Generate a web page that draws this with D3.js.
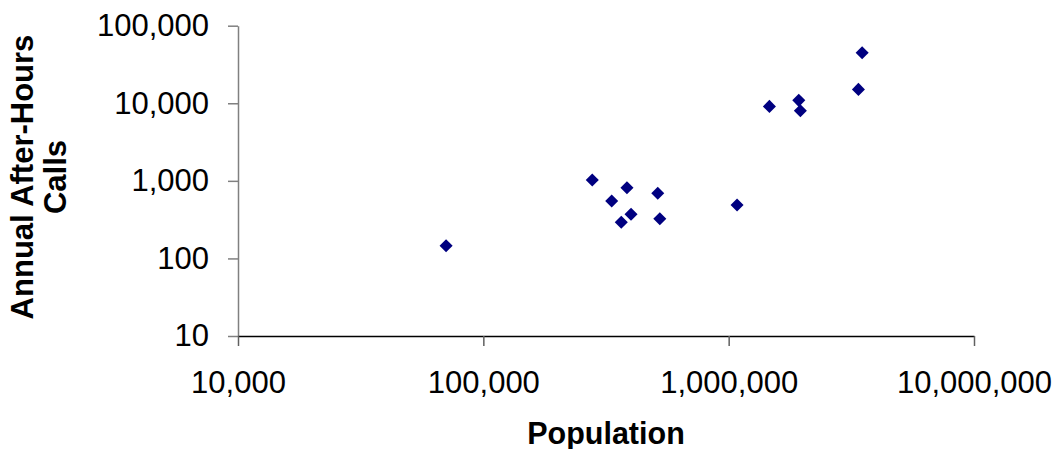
<!DOCTYPE html>
<html>
<head>
<meta charset="utf-8">
<script src="https://cdn.jsdelivr.net/npm/d3@7"></script>
<style>
  body { margin: 0; background: #fff; }
  svg { display: block; }
  .tick text { font-family: "Liberation Sans", Arial, sans-serif; font-size: 31px; fill: #000; }
  .title { font-family: "Liberation Sans", Arial, sans-serif; font-weight: bold; fill: #000; }
</style>
</head>
<body>
<svg id="chart"></svg>
<script>
'use strict';

// population of each service area
const population = [70500, 278000, 333600, 385000, 514000, 400000, 365000, 524000,
	1082000, 1466000, 1931000, 1960000, 3380000, 3500000];
// annual after-hours calls for the same areas
const calls = [146, 1024, 549, 815, 690, 370, 292, 325,
	488, 9120, 10900, 8000, 15100, 44800];

const xTicks = [10000, 100000, 1000000, 10000000];
const yTicks = [10, 100, 1000, 10000, 100000];

const width = 1055, height = 449;
const margin = { top: 25.7, right: 81, bottom: 113, left: 238 };

const svg = d3.select("#chart")
	.attr("width", width)
	.attr("height", height);

const x = d3.scaleLog()
	.domain([10000, 10000000])
	.range([margin.left, width - margin.right]);

const y = d3.scaleLog()
	.domain([10, 100000])
	.range([height - margin.bottom, margin.top]);

const fmt = d3.format(",");

// y axis (grey line + ticks)
const gy = svg.append("g")
	.attr("transform", `translate(${margin.left},0)`)
	.call(d3.axisLeft(y).tickValues(yTicks).tickFormat(fmt)
		.tickSize(10).tickSizeOuter(0).tickPadding(19));
gy.select(".domain").attr("stroke", "#808080").attr("stroke-width", 1.5);
gy.selectAll(".tick line").attr("stroke", "#808080").attr("stroke-width", 1.5);

// x axis (black line, grey ticks)
const gx = svg.append("g")
	.attr("transform", `translate(0,${height - margin.bottom})`)
	.call(d3.axisBottom(x).tickValues(xTicks).tickFormat(fmt)
		.tickSize(10).tickSizeOuter(0).tickPadding(25));
gx.select(".domain").attr("stroke", "#000").attr("stroke-width", 1.5);
gx.selectAll(".tick line").attr("stroke", "#606060").attr("stroke-width", 1.5);

// points
const pts = population.map((p, i) => ({ p: p, c: calls[i] }));
const diamond = d3.symbol().type(d3.symbolSquare).size(85);

svg.append("g")
	.selectAll("path")
	.data(pts)
	.enter()
	.append("path")
	.attr("d", diamond)
	.attr("transform", d => `translate(${x(d.p)},${y(d.c)}) rotate(45)`)
	.attr("fill", "#000080");

// titles
svg.append("text")
	.attr("class", "title")
	.style("font-size", "30.5px")
	.attr("x", (margin.left + width - margin.right) / 2)
	.attr("y", 444)
	.attr("text-anchor", "middle")
	.text("Population");

const yTitle = svg.append("text")
	.attr("class", "title")
	.style("font-size", "31px")
	.attr("transform", `translate(0,177) rotate(-90)`)
	.attr("text-anchor", "middle");
yTitle.append("tspan").attr("x", 0).attr("y", 33).text("Annual After-Hours");
yTitle.append("tspan").attr("x", 0).attr("y", 66).text("Calls");
</script>
</body>
</html>
